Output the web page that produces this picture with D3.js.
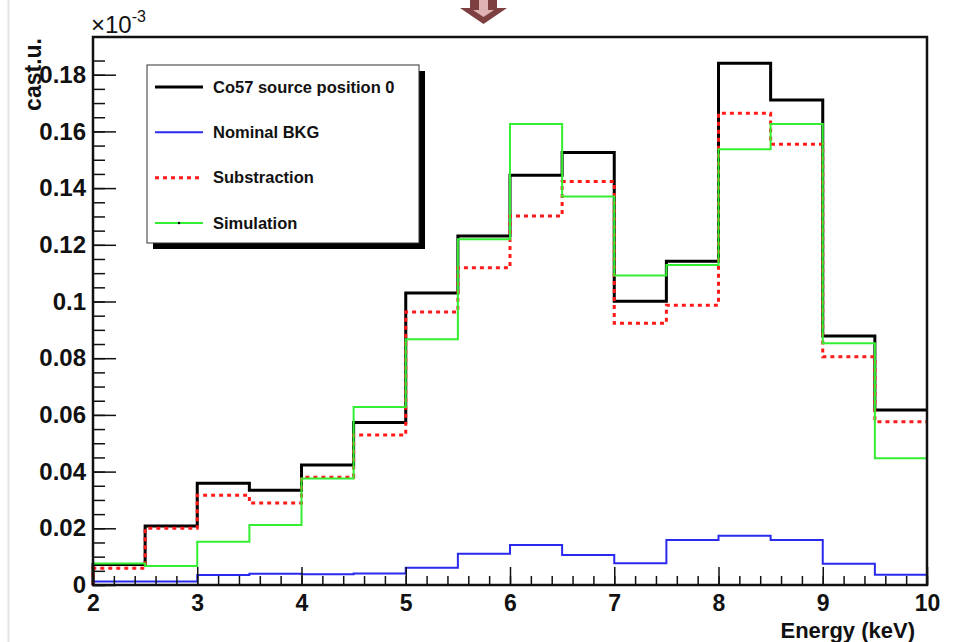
<!DOCTYPE html>
<html>
<head>
<meta charset="utf-8">
<script src="https://cdn.jsdelivr.net/npm/d3@7"></script>
<style>
  body { margin: 0; background: #fff; }
  svg { display: block; font-family: "Liberation Sans", Arial, sans-serif; font-weight: bold; }
</style>
</head>
<body>
<svg id="chart" width="953" height="642"></svg>
<script>
// bin edges (keV), 0.5 keV wide
const binEdges = [2, 2.5, 3, 3.5, 4, 4.5, 5, 5.5, 6, 6.5, 7, 7.5, 8, 8.5, 9, 9.5, 10];

// histogram contents per bin (axis units, x10^-3)
const co57 = [0.0072, 0.0208, 0.0359, 0.0334, 0.0423, 0.0573, 0.1030, 0.1231, 0.1445, 0.1526, 0.1001, 0.1142, 0.1840, 0.1711, 0.0878, 0.0617];
const nominalBkg = [0.0012, 0.0012, 0.0035, 0.0040, 0.0038, 0.0041, 0.0061, 0.0110, 0.0141, 0.0106, 0.0077, 0.0159, 0.0174, 0.0159, 0.0075, 0.0036];
const substraction = [0.0059, 0.0200, 0.0317, 0.0289, 0.0380, 0.0529, 0.0963, 0.1119, 0.1302, 0.1423, 0.0923, 0.0987, 0.1664, 0.1555, 0.0805, 0.0576];
const simulation = [0.0076, 0.0067, 0.0153, 0.0212, 0.0376, 0.0628, 0.0867, 0.1220, 0.1626, 0.1370, 0.1092, 0.1129, 0.1537, 0.1626, 0.0853, 0.0447];

const xTicks = [2, 3, 4, 5, 6, 7, 8, 9, 10];
const yTicks = [0, 0.02, 0.04, 0.06, 0.08, 0.1, 0.12, 0.14, 0.16, 0.18];

const series = [
  { name: "Co57 source position 0", values: co57, color: "#000", width: 3, dash: null },
  { name: "Nominal BKG", values: nominalBkg, color: "#2a2aee", width: 2, dash: null },
  { name: "Substraction", values: substraction, color: "#ff1a1a", width: 3, dash: "4,4" },
  { name: "Simulation", values: simulation, color: "#33ee33", width: 2, dash: null }
];

const margin = { top: 37, right: 26, bottom: 57, left: 93 };
const width = 953, height = 642;

const svg = d3.select("#chart");

// page decorations from the screenshot
svg.append("line").attr("x1", 8.5).attr("x2", 8.5).attr("y1", 0).attr("y2", height)
  .attr("stroke", "#e4e4e4").attr("stroke-width", 2);
svg.append("path").attr("d", "M470,0L497,0L497,8L507,8L483.5,24L460,8L470,8Z").attr("fill", "#7d3f3f");
svg.append("path").attr("d", "M479,0L488,0L488,10L494,10L483.5,17L473,10L479,10Z").attr("fill", "#dfb3b3");

const x = d3.scaleLinear().domain([2, 10]).range([margin.left, width - margin.right]);
const y = d3.scaleLinear().domain([0, 0.1933]).range([height - margin.bottom, margin.top]);

// histograms as steps
const step = d3.line().x(d => x(d[0])).y(d => y(d[1])).curve(d3.curveStepAfter);
series.forEach(s => {
  const pts = s.values.map((v, i) => [binEdges[i], v]);
  pts.unshift([binEdges[0], 0]);
  pts.push([binEdges[binEdges.length - 1], s.values[s.values.length - 1]]);
  svg.append("path")
    .attr("d", step(pts))
    .attr("fill", "none")
    .attr("stroke", s.color)
    .attr("stroke-width", s.width)
    .attr("stroke-dasharray", s.dash);
});

// axes: ticks pointing inward
const xMinor = d3.range(2, 10.001, 0.2);
svg.append("g").attr("transform", `translate(0,${height - margin.bottom})`)
  .call(d3.axisBottom(x).tickValues(xMinor).tickSize(-9).tickFormat(""))
  .call(g => g.select(".domain").remove())
  .call(g => g.selectAll("line").attr("stroke", "#111").attr("stroke-width", 1.5));
svg.append("g").attr("transform", `translate(0,${height - margin.bottom})`)
  .call(d3.axisBottom(x).tickValues(xTicks).tickSize(-18).tickPadding(10).tickFormat(d3.format("d")))
  .call(g => g.select(".domain").remove())
  .call(g => g.selectAll("line").attr("stroke", "#111").attr("stroke-width", 1.5))
  .call(g => g.selectAll("text").attr("font-size", 23).attr("fill", "#111").attr("font-family", null));

const yMinor = d3.range(0, 0.19, 0.005);
svg.append("g").attr("transform", `translate(${margin.left},0)`)
  .call(d3.axisLeft(y).tickValues(yMinor).tickSize(-12).tickFormat(""))
  .call(g => g.select(".domain").remove())
  .call(g => g.selectAll("line").attr("stroke", "#111").attr("stroke-width", 1.5));
svg.append("g").attr("transform", `translate(${margin.left},0)`)
  .call(d3.axisLeft(y).tickValues(yTicks).tickSize(-23).tickPadding(7).tickFormat(d => String(+d.toFixed(2))))
  .call(g => g.select(".domain").remove())
  .call(g => g.selectAll("line").attr("stroke", "#111").attr("stroke-width", 1.5))
  .call(g => g.selectAll("text").attr("font-size", 24).attr("fill", "#111").attr("font-family", null));

// frame
svg.append("rect")
  .attr("x", margin.left).attr("y", margin.top)
  .attr("width", width - margin.left - margin.right)
  .attr("height", height - margin.top - margin.bottom)
  .attr("fill", "none").attr("stroke", "#111").attr("stroke-width", 2.5);

// axis titles
svg.append("text").attr("x", 915).attr("y", 638).attr("text-anchor", "end")
  .attr("font-size", 22).attr("fill", "#111").text("Energy (keV)");
svg.append("text").attr("transform", "translate(41,38) rotate(-90)").attr("text-anchor", "end")
  .attr("font-size", 23).attr("fill", "#111").text("cast.u.");
const exp = svg.append("text").attr("x", 91).attr("y", 33).attr("font-size", 24)
  .attr("font-weight", "normal").attr("fill", "#111");
exp.append("tspan").text("\u00d710");
exp.append("tspan").attr("dy", -11).attr("font-size", 16).text("-3");

// legend
const lg = svg.append("g");
lg.append("rect").attr("x", 153).attr("y", 71).attr("width", 272).attr("height", 178).attr("fill", "#000");
lg.append("rect").attr("x", 147).attr("y", 65).attr("width", 272).attr("height", 178)
  .attr("fill", "#fff").attr("stroke", "#333").attr("stroke-width", 1);
const rowY = d3.scalePoint().domain(series.map(s => s.name)).range([87, 223]);
series.forEach(s => {
  const yy = rowY(s.name);
  lg.append("line").attr("x1", 155).attr("x2", 203).attr("y1", yy).attr("y2", yy)
    .attr("stroke", s.color).attr("stroke-width", s.width).attr("stroke-dasharray", s.dash);
  lg.append("text").attr("x", 213).attr("y", yy).attr("dy", "0.35em")
    .attr("font-size", 16.5).attr("fill", "#111").text(s.name);
});
lg.append("circle").attr("cx", 179).attr("cy", rowY("Simulation")).attr("r", 1.2).attr("fill", "#000");
</script>
</body>
</html>
